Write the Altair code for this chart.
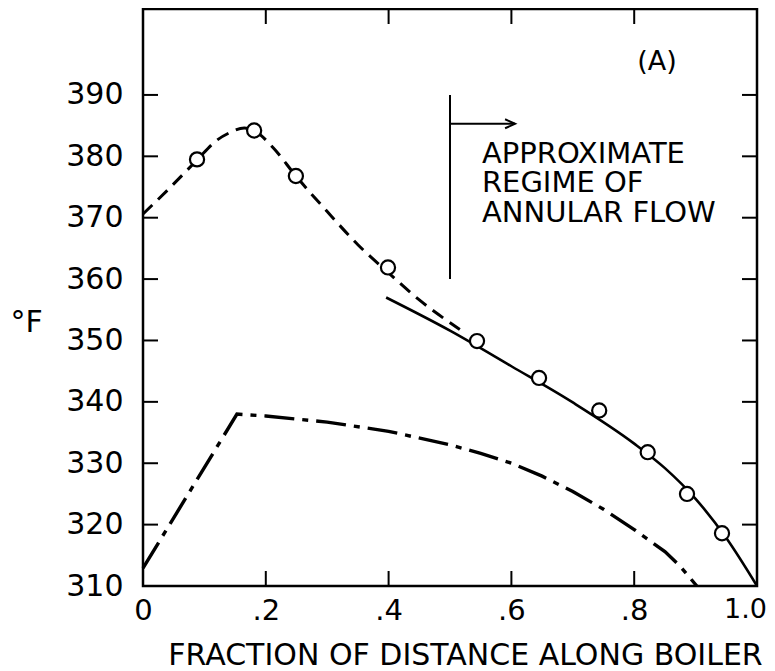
import altair as alt
import pandas as pd

# ---------------- data ----------------
# measured points (open circles)
meas_x = [0.088, 0.181, 0.249, 0.399, 0.544, 0.645, 0.743, 0.822, 0.886, 0.943]
meas_y = [379.5, 384.2, 376.8, 361.9, 349.9, 343.9, 338.6, 331.8, 325.0, 318.6]

# dashed curve
dash_x = [0.0, 0.044, 0.088, 0.12, 0.14, 0.165, 0.181, 0.212, 0.249, 0.3,
          0.35, 0.4, 0.45, 0.516]
dash_y = [370.6, 374.9, 379.4, 382.6, 383.8, 384.6, 384.2, 381.4, 376.8, 371.0,
          365.6, 361.0, 356.6, 351.8]

# solid curve (annular-flow regime)
solid_x = [0.396, 0.5, 0.6, 0.7, 0.8, 0.85, 0.9, 0.95, 1.0]
solid_y = [357.0, 351.6, 345.8, 339.9, 333.2, 329.2, 324.2, 317.8, 310.0]

# dash-dot curve
dd_x = [0.0, 0.153, 0.2, 0.3, 0.4, 0.5, 0.55, 0.6, 0.65, 0.7, 0.75, 0.8,
        0.85, 0.875, 0.902]
dd_y = [312.9, 338.0, 337.7, 336.7, 335.2, 333.0, 331.6, 330.0, 327.9, 325.4,
        322.5, 319.2, 315.6, 313.2, 310.0]

# axes
x_tick_vals = [0, 0.2, 0.4, 0.6, 0.8, 1.0]
x_tick_text = ["0", ".2", ".4", ".6", ".8", "1.0"]
x_inner_ticks = [0.2, 0.4, 0.6, 0.8]
y_tick_vals = [310, 320, 330, 340, 350, 360, 370, 380, 390]
y_inner_ticks = [320, 330, 340, 350, 360, 370, 380, 390]
x_title = "FRACTION OF DISTANCE ALONG BOILER"
y_title = "°F"

# annotations
regime_bar_x = [0.5, 0.5]
regime_bar_y = [360.0, 390.0]
arrow_x = [0.5, 0.606]
arrow_y = [385.3, 385.3]
note_lines = ["APPROXIMATE", "REGIME OF", "ANNULAR FLOW"]
note_first_y = 380.4
note_x = 0.552
panel_label = "(A)"
panel_xy = (0.837, 395.4)

# ---------------- chart ----------------
W, H = 614, 577
FONT = "DejaVu Sans"
TICK = 15

label_expr = "''"
for v, t in reversed(list(zip(x_tick_vals, x_tick_text))):
    label_expr = f"abs(datum.value-{v})<1e-6 ? '{t}' : ({label_expr})"

xs = alt.Scale(domain=[0, 1], nice=False, zero=False)
ys = alt.Scale(domain=[310, 404], nice=False, zero=False)

x_axis = alt.Axis(values=x_tick_vals, labelExpr=label_expr, ticks=False, domain=False,
                  grid=False, labelFont=FONT, labelColor="black",
                  labelFontSize={"condition": {"test": "datum.value > 0.99", "value": 27},
                                 "value": 29},
                  labelPadding=10, labelFlush=False, labelBaseline="top",
                  labelOffset={"condition": {"test": "datum.value > 0.99", "value": -12},
                               "value": 0},
                  title=x_title, titleFont=FONT, titleFontSize=30, titleFontWeight="normal",
                  titleColor="black", titleX=322, titleY=54, titleAlign="center",
                  titleBaseline="top")
y_axis = alt.Axis(values=y_tick_vals, ticks=False, domain=False, grid=False,
                  labelFont=FONT, labelFontSize=30, labelColor="black", labelPadding=20,
                  labelFlush=False, labelBaseline="middle",
                  title=y_title, titleFont=FONT, titleFontSize=30, titleFontWeight="normal",
                  titleColor="black", titleAngle=0, titleX=-117, titleY=313,
                  titleAlign="center", titleBaseline="middle")

X = alt.X("x:Q", scale=xs, axis=x_axis)
Y = alt.Y("y:Q", scale=ys, axis=y_axis)

meas_df = pd.DataFrame({"x": meas_x, "y": meas_y})
dash_df = pd.DataFrame({"x": dash_x, "y": dash_y})
solid_df = pd.DataFrame({"x": solid_x, "y": solid_y})
dd_df = pd.DataFrame({"x": dd_x, "y": dd_y})

solid = alt.Chart(solid_df).mark_line(color="black", strokeWidth=2.6,
                                      interpolate="monotone").encode(x=X, y=Y)
dashed = alt.Chart(dash_df).mark_line(color="black", strokeWidth=3,
                                      strokeDash=[13, 8],
                                      interpolate="monotone").encode(x=X, y=Y)
dashdot = alt.Chart(dd_df).mark_line(color="black", strokeWidth=3.4,
                                     strokeDash=[30, 8, 6, 8]).encode(x=X, y=Y)
points = alt.Chart(meas_df).mark_point(shape="circle", size=200, filled=True,
                                       fill="white", stroke="black", strokeWidth=2.2,
                                       opacity=1).encode(x=X, y=Y)

xt_df = pd.DataFrame({"x": x_inner_ticks})
yt_df = pd.DataFrame({"y": y_inner_ticks})
xt_bottom = alt.Chart(xt_df).mark_rule(color="black", strokeWidth=2).encode(
    x=X, y=alt.value(H), y2=alt.value(H - TICK))
xt_top = alt.Chart(xt_df).mark_rule(color="black", strokeWidth=2).encode(
    x=X, y=alt.value(0), y2=alt.value(TICK))
yt_left = alt.Chart(yt_df).mark_rule(color="black", strokeWidth=2).encode(
    y=Y, x=alt.value(0), x2=alt.value(TICK))
yt_right = alt.Chart(yt_df).mark_rule(color="black", strokeWidth=2).encode(
    y=Y, x=alt.value(W - TICK), x2=alt.value(W))

bar_df = pd.DataFrame({"x": [regime_bar_x[0]], "y": [regime_bar_y[0]], "y2": [regime_bar_y[1]]})
bar = alt.Chart(bar_df).mark_rule(color="black", strokeWidth=2).encode(x=X, y=Y, y2="y2:Q")
arr_df = pd.DataFrame({"x": [arrow_x[0]], "x2": [arrow_x[1]], "y": [arrow_y[0]]})
arrow_line = alt.Chart(arr_df).mark_rule(color="black", strokeWidth=2).encode(
    x=X, x2="x2:Q", y=Y)
head_df = pd.DataFrame({"x": [arrow_x[1]], "y": [arrow_y[1]]})
arrow_head = alt.Chart(head_df).mark_point(shape="M-1,-0.45L0,0L-1,0.45", size=400,
                                           filled=False, color="black",
                                           strokeWidth=2, opacity=1).encode(x=X, y=Y)

note_df = pd.DataFrame({"x": [note_x], "y": [note_first_y], "t": ["\n".join(note_lines)]})
notes = alt.Chart(note_df).mark_text(font=FONT, fontSize=29, align="left",
                                     baseline="middle", lineBreak="\n", lineHeight=29.5,
                                     color="black").encode(x=X, y=Y, text="t:N")
panel_df = pd.DataFrame({"x": [panel_xy[0]], "y": [panel_xy[1]], "t": [panel_label]})
panel = alt.Chart(panel_df).mark_text(font=FONT, fontSize=27, align="center",
                                      baseline="middle", color="black").encode(
    x=X, y=Y, text="t:N")

chart = alt.layer(
    solid, dashed, dashdot, points, xt_bottom, xt_top, yt_left, yt_right,
    bar, arrow_line, arrow_head, notes, panel
).properties(
    width=W, height=H,
    autosize=alt.AutoSizeParams(type="none"),
    padding={"left": 135, "top": 1, "right": 10, "bottom": 85},
    background="white",
).configure_view(
    stroke="black", strokeWidth=2.5
)

chart.save("out.html", embed_options={"renderer": "svg", "actions": False})
